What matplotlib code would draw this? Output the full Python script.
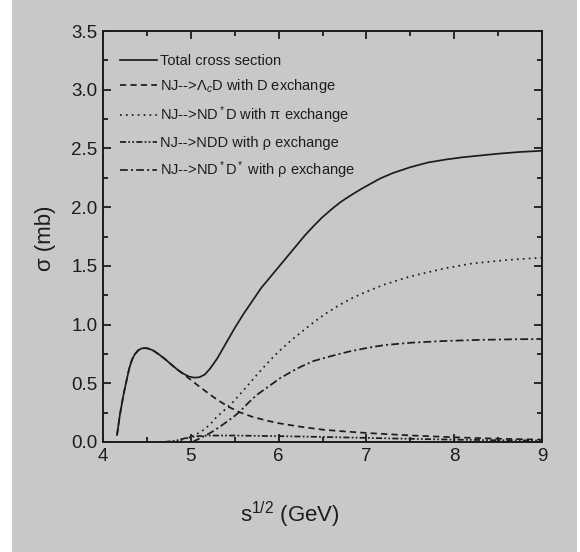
import matplotlib
matplotlib.use('Agg')
import matplotlib.pyplot as plt
from matplotlib.patches import Rectangle

# --- values ---
x_total = [4.16, 4.19, 4.23, 4.27, 4.30, 4.33, 4.36, 4.40, 4.44, 4.48, 4.52, 4.57, 4.63,
           4.70, 4.77, 4.85, 4.92, 4.98, 5.04, 5.10, 5.16, 5.22, 5.30, 5.40, 5.50, 5.60,
           5.70, 5.80, 5.90, 6.00, 6.10, 6.20, 6.30, 6.40, 6.50, 6.60, 6.70, 6.80, 6.93,
           7.05, 7.16, 7.30, 7.50, 7.70, 7.90, 8.10, 8.30, 8.50, 8.75, 9.00]
y_total = [0.06, 0.22, 0.39, 0.53, 0.63, 0.70, 0.745, 0.78, 0.797, 0.80, 0.795, 0.78, 0.75,
           0.71, 0.665, 0.615, 0.58, 0.557, 0.548, 0.552, 0.575, 0.625, 0.71, 0.84, 0.97, 1.09,
           1.20, 1.31, 1.40, 1.49, 1.58, 1.67, 1.76, 1.84, 1.915, 1.98, 2.04, 2.09, 2.15,
           2.20, 2.245, 2.29, 2.34, 2.38, 2.405, 2.425, 2.44, 2.455, 2.47, 2.48]

x_lambda = [4.16, 4.19, 4.23, 4.27, 4.30, 4.33, 4.36, 4.40, 4.44, 4.48, 4.52, 4.57, 4.63,
            4.70, 4.77, 4.85, 4.92, 5.00, 5.10, 5.20, 5.30, 5.43, 5.55, 5.70, 5.85, 6.00,
            6.25, 6.50, 6.75, 7.00, 7.50, 8.00, 8.50, 9.00]
y_lambda = [0.06, 0.22, 0.39, 0.53, 0.63, 0.70, 0.745, 0.78, 0.797, 0.80, 0.795, 0.78, 0.75,
            0.71, 0.665, 0.615, 0.575, 0.53, 0.47, 0.415, 0.36, 0.30, 0.255, 0.215, 0.185, 0.16,
            0.13, 0.105, 0.09, 0.077, 0.056, 0.04, 0.028, 0.02]

x_pi = [4.82, 4.95, 5.05, 5.14, 5.22, 5.29, 5.38, 5.48, 5.60, 5.75, 5.87, 6.00, 6.15,
        6.30, 6.40, 6.55, 6.70, 6.85, 7.00, 7.20, 7.50, 7.90, 8.20, 8.60, 9.00]
y_pi = [0.0, 0.03, 0.06, 0.10, 0.15, 0.21, 0.27, 0.34, 0.44, 0.57, 0.67, 0.77, 0.87,
        0.96, 1.02, 1.10, 1.17, 1.23, 1.28, 1.34, 1.41, 1.48, 1.52, 1.55, 1.57]

x_ndd = [4.70, 4.85, 4.95, 5.05, 5.20, 5.50, 6.00, 6.50, 7.00, 7.50, 8.00, 8.50, 9.00]
y_ndd = [0.0, 0.015, 0.035, 0.048, 0.055, 0.055, 0.05, 0.043, 0.035, 0.027, 0.02, 0.015, 0.012]

x_rho = [5.02, 5.10, 5.18, 5.25, 5.35, 5.48, 5.56, 5.65, 5.75, 5.88, 6.02, 6.15, 6.25,
         6.40, 6.59, 6.80, 7.00, 7.20, 7.50, 7.88, 8.30, 8.70, 9.00]
y_rho = [0.0, 0.03, 0.06, 0.09, 0.14, 0.21, 0.26, 0.33, 0.40, 0.47, 0.545, 0.60, 0.64,
         0.69, 0.73, 0.77, 0.80, 0.825, 0.845, 0.86, 0.87, 0.875, 0.877]

labels = ['Total cross section',
          r'NJ-->Λ$_c$D with D exchange',
          r'NJ-->ND$^*$D with π exchange',
          r'NJ-->NDD with ρ exchange',
          r'NJ-->ND$^*$D$^*$ with ρ exchange']

bg = '#c8c8c8'
ink = '#1c1c1c'

plt.rcParams['font.family'] = ['Liberation Sans', 'DejaVu Sans']
plt.rcParams['mathtext.fontset'] = 'custom'
plt.rcParams['mathtext.rm'] = 'Liberation Sans'
plt.rcParams['mathtext.it'] = 'Liberation Sans:italic'

fig = plt.figure(figsize=(5.8, 5.52), dpi=100, facecolor=bg)
# white scan margins
fig.patches.append(Rectangle((0, 0), 12 / 580, 1, transform=fig.transFigure,
                             facecolor='white', edgecolor='none', zorder=-1))
fig.patches.append(Rectangle((577 / 580, 0), 3 / 580, 1, transform=fig.transFigure,
                             facecolor='white', edgecolor='none', zorder=-1))

ax = fig.add_axes([103 / 580, 1 - 442 / 552, 439 / 580, 411 / 552])
ax.set_facecolor(bg)

lw = 1.25
ax.plot(x_total, y_total, color=ink, lw=lw, ls='-', label=labels[0])
ax.plot(x_lambda, y_lambda, color=ink, lw=lw, ls=(0, (3.6, 2.4)), label=labels[1])
ax.plot(x_pi, y_pi, color=ink, lw=lw, ls=(0, (1.0, 2.4)), label=labels[2])
ax.plot(x_ndd, y_ndd, color=ink, lw=lw, ls=(0, (3.5, 1.3, 1, 1.3, 1, 1.3)), label=labels[3])
ax.plot(x_rho, y_rho, color=ink, lw=lw, ls=(0, (4.5, 1.8, 1.2, 1.8)), label=labels[4])

ax.set_xlim(4, 9)
ax.set_ylim(0, 3.5)
ax.set_xticks([4, 5, 6, 7, 8, 9])
ax.set_xticks([4.5, 5.5, 6.5, 7.5, 8.5], minor=True)
ax.set_yticks([0, 0.5, 1.0, 1.5, 2.0, 2.5, 3.0, 3.5])
ax.set_yticks([0.25, 0.75, 1.25, 1.75, 2.25, 2.75, 3.25], minor=True)
ax.set_yticklabels(['0.0', '0.5', '1.0', '1.5', '2.0', '2.5', '3.0', '3.5'])
ax.tick_params(which='both', direction='in', top=True, right=True, colors=ink,
               labelsize=13.5, width=1.3)
ax.tick_params(which='major', length=6, pad=4)
ax.tick_params(which='minor', length=3.5)
for s in ax.spines.values():
    s.set_linewidth(1.4)
    s.set_color(ink)

leg = ax.legend(loc='upper left', bbox_to_anchor=(0.039, 0.945), frameon=False,
                fontsize=10.5, handlelength=2.5, handletextpad=0.25, labelspacing=0.65,
                borderaxespad=0, borderpad=0)
for t in leg.get_texts():
    t.set_color(ink)

fig.text(290 / 580, 1 - 515 / 552, r'$\mathregular{s^{1/2}}$ (GeV)', ha='center', va='center',
         fontsize=16, color=ink)
fig.text(45 / 580, 1 - 238 / 552, 'σ (mb)', ha='center', va='center',
         rotation=90, fontsize=16, color=ink)

fig.savefig('out.png', dpi=100, facecolor=bg)
